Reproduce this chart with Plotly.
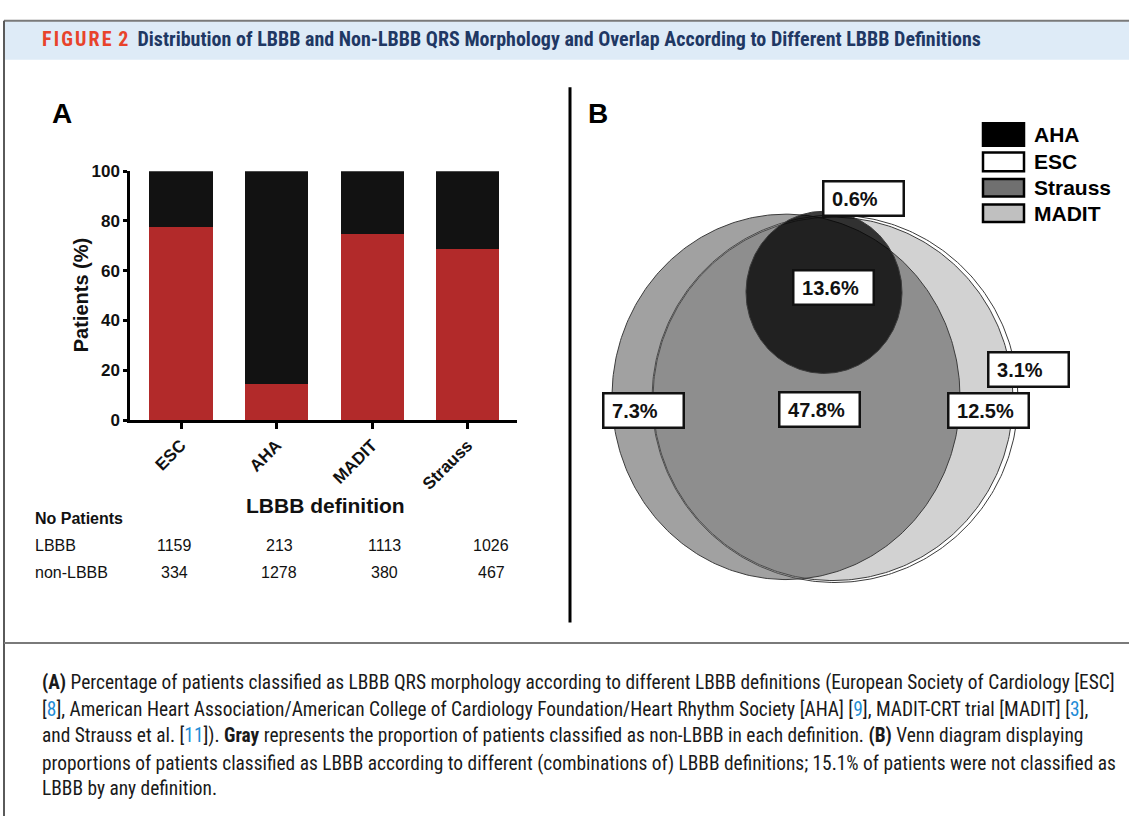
import numpy as np
import plotly.graph_objects as go

W, H = 1129, 826

# ---- Panel A data: patients per LBBB definition ----
categories = ["ESC", "AHA", "MADIT", "Strauss"]
lbbb_counts = [1159, 213, 1113, 1026]
non_lbbb_counts = [334, 1278, 380, 467]
y_ticks = [0, 20, 40, 60, 80, 100]

# ---- Panel B data: Venn region shares (% of all patients) ----
venn_sets = ["AHA", "ESC", "Strauss", "MADIT"]
venn_region_pct = [0.6, 13.6, 47.8, 7.3, 12.5, 3.1]
not_classified_pct = 15.1

totals = [a + b for a, b in zip(lbbb_counts, non_lbbb_counts)]
lbbb_pct = [100 * a / t for a, t in zip(lbbb_counts, totals)]
non_lbbb_pct = [100 * b / t for b, t in zip(non_lbbb_counts, totals)]

ARIAL = "Liberation Sans, Arial, sans-serif"
NARROW = "Liberation Sans Narrow, Arial Narrow, Roboto Condensed, sans-serif"
RED = "#b22a2a"
BLACK = "#121212"


def fx(p):
    return p / W


def fy(p):
    return 1 - p / H


def label(x, y, text, size, family=ARIAL, color="#111", xanchor="center", **kw):
    """Paper-anchored text placed in page pixels."""
    return dict(x=fx(x), y=fy(y), xref="paper", yref="paper", showarrow=False,
                xanchor=xanchor, yanchor="middle", text=text,
                font=dict(family=family, size=size, color=color), **kw)


fig = go.Figure()

# ---- Panel A: stacked percentage bars ----
fig.add_trace(go.Bar(x=categories, y=lbbb_pct, marker=dict(color=RED, line=dict(width=0)),
                     width=0.66, xaxis="x", yaxis="y", showlegend=False))
fig.add_trace(go.Bar(x=categories, y=non_lbbb_pct, marker=dict(color=BLACK, line=dict(width=0)),
                     width=0.66, xaxis="x", yaxis="y", showlegend=False))

# ---- Panel B: Venn diagram (ellipse geometry in panel units) ----
venn_geom = {
    "ESC": dict(c=(0, 0), r=(183, 188), fill="#ffffff"),
    "MADIT": dict(c=(-2, 0), r=(180, 186), fill="#d2d2d2"),
    "Strauss": dict(c=(-49, 2), r=(174, 187), fill="rgba(90,90,90,0.57)"),
    "AHA": dict(c=(-11, 109), r=(78, 83), fill="rgba(0,0,0,0.77)"),
}
t = np.linspace(0, 2 * np.pi, 361)
for name in ["ESC", "MADIT", "Strauss", "AHA"]:
    g = venn_geom[name]
    fig.add_trace(go.Scatter(
        x=g["c"][0] + g["r"][0] * np.cos(t), y=g["c"][1] + g["r"][1] * np.sin(t),
        mode="lines", fill="toself", fillcolor=g["fill"],
        line=dict(color="#3c3c3c", width=1), xaxis="x2", yaxis="y2",
        hoverinfo="skip", showlegend=False))

# label anchor per region, same order as venn_region_pct
region_anchor = [(28, 205), (-2, 114), (-15.5, -11), (-191.5, -12), (153, -11.5), (193, 30.5)]

annotations = []
for pct, (ax_, ay_) in zip(venn_region_pct, region_anchor):
    annotations.append(dict(
        x=ax_, y=ay_, xref="x2", yref="y2", showarrow=False,
        text="&nbsp;<b>%.1f%%</b>" % pct, align="left", width=74, height=28,
        font=dict(family=ARIAL, size=20, color="#111"),
        bgcolor="white", bordercolor="#111", borderwidth=2.5, borderpad=2,
        xanchor="center", yanchor="middle"))

# Venn legend
legend_fill = {"AHA": "#000000", "ESC": "#ffffff", "Strauss": "#707070", "MADIT": "#c0c0c0"}
legend_rows = [(117, 140), (147, 166), (174, 192), (200, 218)]
shapes = []
for name, (y0, y1) in zip(venn_sets, legend_rows):
    shapes.append(dict(type="rect", xref="paper", yref="paper",
                       x0=fx(983), x1=fx(1024), y0=fy(y1), y1=fy(y0),
                       fillcolor=legend_fill[name], line=dict(color="#000", width=2.5)))
    annotations.append(label(1032, (y0 + y1) / 2, "<b>%s</b>" % name, 21, color="#000",
                             xanchor="left"))

# ---- frame, header band, dividers ----
shapes += [
    dict(type="rect", xref="paper", yref="paper", x0=fx(4), x1=1, y0=fy(52), y1=fy(12),
         fillcolor="#deebf7", line=dict(width=0), layer="below"),
    dict(type="line", xref="paper", yref="paper", x0=fx(4), x1=1, y0=fy(12), y1=fy(12),
         line=dict(color="#7a7a7a", width=2)),
    dict(type="line", xref="paper", yref="paper", x0=fx(4), x1=fx(4), y0=0, y1=fy(12),
         line=dict(color="#5a5a5a", width=2)),
    dict(type="line", xref="paper", yref="paper", x0=fx(4), x1=1, y0=fy(649), y1=fy(649),
         line=dict(color="#7a7a7a", width=2)),
    dict(type="line", xref="paper", yref="paper", x0=fx(570), x1=fx(570), y0=fy(628), y1=fy(80),
         line=dict(color="#000", width=3)),
]

annotations.append(label(
    40, 31,
    "<span style='color:#e8432b'><b>F\u200aI\u200aG\u200aU\u200aR\u200aE\u200a 2</b></span>"
    "&nbsp;&nbsp;<span style='color:#1f3864'><b>Distribution of LBBB and Non-LBBB QRS Morphology "
    "and Overlap According to Different LBBB Definitions</b></span>",
    20, family=NARROW, xanchor="left"))

# panel letters
for letter, x in [("A", 62), ("B", 598)]:
    annotations.append(label(x, 107, "<b>%s</b>" % letter, 28, color="#000"))

# axis titles
annotations.append(label(81, 293, "<b>Patients (%)</b>", 20, textangle=-90))
annotations.append(label(325, 508, "<b>LBBB definition</b>", 21))

# patient count table
col_x = [174, 279, 384, 491]
annotations.append(label(33, 522, "<b>No Patients</b>", 16, xanchor="left"))
for row_label, counts, yy in [("LBBB", lbbb_counts, 549), ("non-LBBB", non_lbbb_counts, 577)]:
    annotations.append(label(33, yy, row_label, 16, xanchor="left"))
    for cx, v in zip(col_x, counts):
        annotations.append(label(cx, yy, str(v), 16))

# caption
REF = "<span style='color:#1f8dd6'>%s</span>"
caption = [
    "<b>(A)</b> Percentage of patients classified as LBBB QRS morphology according to different LBBB "
    "definitions (European Society of Cardiology [ESC]",
    "[" + REF % "8" + "], American Heart Association/American College of Cardiology Foundation/Heart "
    "Rhythm Society [AHA] [" + REF % "9" + "], MADIT-CRT trial [MADIT] [" + REF % "3" + "],",
    "and Strauss et al. [" + REF % "11" + "]). <b>Gray</b> represents the proportion of patients "
    "classified as non-LBBB in each definition. <b>(B)</b> Venn diagram displaying",
    "proportions of patients classified as LBBB according to different (combinations of) LBBB "
    "definitions; %.1f%% of patients were not classified as" % not_classified_pct,
    "LBBB by any definition.",
]
for line, yy in zip(caption, [689, 717, 744, 772, 798]):
    annotations.append(label(40, yy, line, 19.4, family=NARROW, color="#1a1a1a", xanchor="left"))

fig.update_layout(
    width=W, height=H, margin=dict(l=0, r=0, t=0, b=0),
    paper_bgcolor="white", plot_bgcolor="rgba(0,0,0,0)",
    barmode="stack", bargap=0,
    xaxis=dict(domain=[fx(130), fx(517)], range=[-0.534, 3.518], anchor="y",
               showline=True, linecolor="#000", linewidth=2.5, ticks="outside", ticklen=6,
               tickwidth=2.5, tickcolor="#000", tickangle=-45, showgrid=False, zeroline=False,
               tickfont=dict(family=ARIAL, size=17, color="#111", weight="bold")),
    yaxis=dict(domain=[fy(420.7), fy(166)], range=[0, 100], anchor="x",
               tickvals=y_ticks, showline=True, linecolor="#000", linewidth=2.5,
               ticks="outside", ticklen=4, tickwidth=2.5, tickcolor="#000",
               showgrid=False, zeroline=False,
               tickfont=dict(family=ARIAL, size=17, color="#111", weight="bold")),
    xaxis2=dict(domain=[fx(590), 1.0], range=[-245, 294], visible=False, anchor="y2"),
    yaxis2=dict(domain=[fy(640), fy(90)], range=[-241, 309], visible=False, anchor="x2"),
    shapes=shapes, annotations=annotations,
)

fig.write_html("out.html")
